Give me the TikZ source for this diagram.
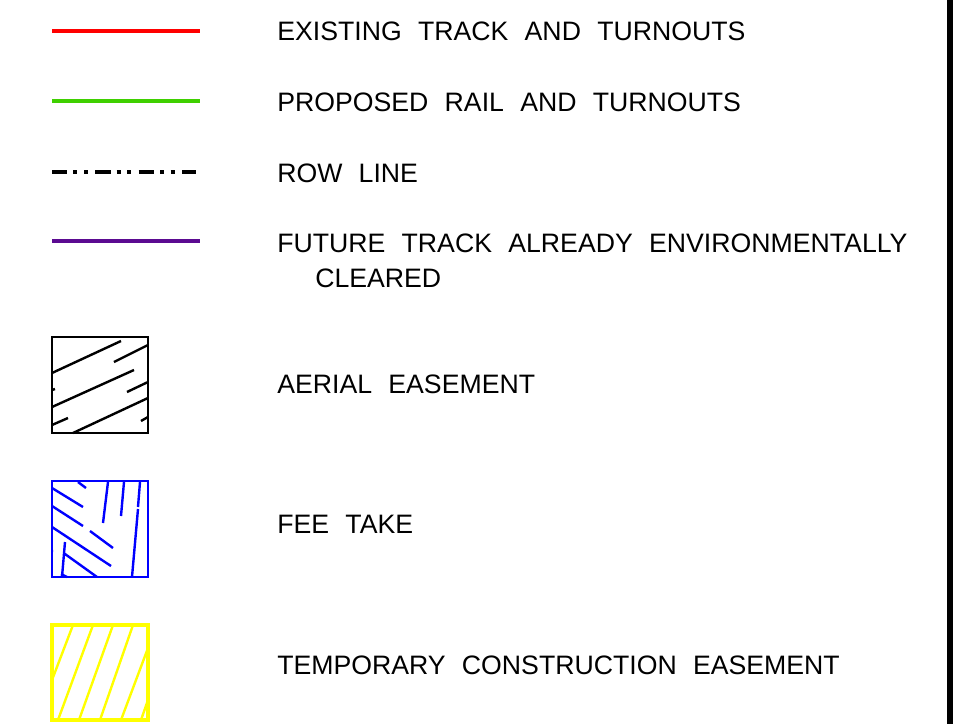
\documentclass[tikz,border=0pt]{standalone}
\usepackage{fontspec}
\setmainfont{Liberation Sans}[WordSpace=2.2]
\usetikzlibrary{positioning}
\definecolor{ink}{HTML}{000000}
\definecolor{exred}{HTML}{FF0000}
\definecolor{prgreen}{HTML}{3FD000}
\definecolor{fupurple}{HTML}{5B0A91}
\definecolor{feeblue}{HTML}{0000FF}
\definecolor{tceyellow}{HTML}{FFFF00}
\tikzset{
  sample/.style={line width=2.6pt},
  rowline/.style={line width=2.4pt,ink,dash pattern=on 11.5pt off 4.5pt on 3pt off 5pt on 3pt off 5.5pt},
  swatch/.style={line width=1.5pt},
  hatch/.style={line width=1.8pt},
  lab/.style={anchor=base west,inner sep=0pt,font=\fontsize{20pt}{24pt}\selectfont,text=ink}
}
\begin{document}
\begin{tikzpicture}[x=0.75pt,y=-0.75pt]
\useasboundingbox (0,0) rectangle (960,724);
% ===================== line samples =====================
\draw[sample,exred] (52,31) -- (200,31);
\node[lab] (lexist) at (277,41) {EXISTING TRACK AND TURNOUTS};
\draw[sample,prgreen] (52,101) -- (200,101);
\node[lab] (lprop) at (277,111) {PROPOSED RAIL AND TURNOUTS};
\draw[rowline] (52,172) -- (196,172);
\node[lab] (lrow) at (277,182) {ROW LINE};
\draw[sample,fupurple] (52,241) -- (200,241);
\node[lab] (lfut) at (277,252) {FUTURE TRACK ALREADY ENVIRONMENTALLY};
\node[lab] (lclr) at (315,287) {CLEARED};
% ===================== area swatches =====================
% aerial easement
\draw[swatch,ink,line width=1.3pt] (52,337) rectangle (148,433);
\draw[hatch,ink] (52,373) -- (121,341) (114,362) -- (148,345) (52,390) -- (55,389)
  (52,407) -- (134,370) (127,392) -- (148,382) (52,425) -- (68,418)
  (73,433) -- (148,398) (141,421) -- (148,417);
\node[lab] (laer) at (277,393) {AERIAL EASEMENT};
% fee take
\draw[swatch,feeblue,line width=2.2pt] (52,481) rectangle (148,577);
\draw[hatch,feeblue] (78,482) -- (86,488) (52,488) -- (83,507) (52,506) -- (83,526)
  (52,527) -- (111,566) (90,531) -- (113,548) (65,554) -- (97,577) (61,574) -- (67,577)
  (52,551) -- (53,551)
  (108,482) -- (103,523) (124,482) -- (121,516) (140,482) -- (138,507)
  (138,509) -- (132,577) (65,542) -- (62,577);
\node[lab] (lfee) at (277,533) {FEE TAKE};
% temporary construction easement
\draw[swatch,tceyellow,line width=2.4pt] (52,625) rectangle (148,720);
\draw[hatch,tceyellow] (52,680) -- (73,625) (58,720) -- (93,625) (79,720) -- (113,625)
  (100,720) -- (133,625) (121,720) -- (148,648) (141,720) -- (148,700);
\node[lab] (ltce) at (277,674) {TEMPORARY CONSTRUCTION EASEMENT};
% ===================== sheet border =====================
\fill[ink] (947,0) rectangle (953,724);
\end{tikzpicture}
\end{document}
